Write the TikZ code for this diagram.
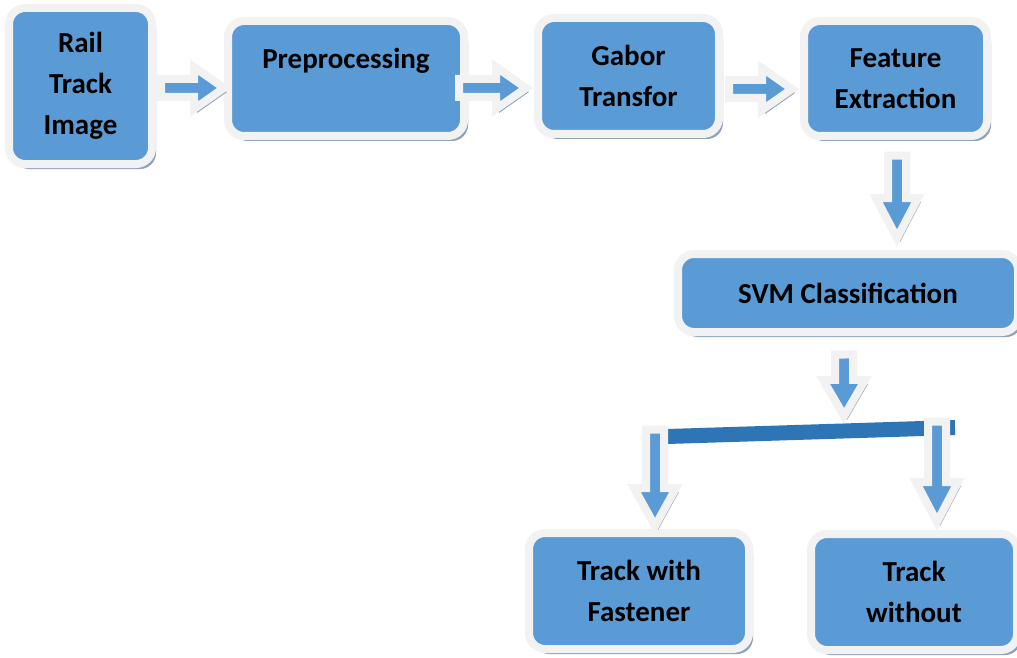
\documentclass[tikz,border=0pt]{standalone}
\usepackage{fontspec}
\setmainfont{Carlito}
\usepackage{tikz}
\usetikzlibrary{calc,shadows}

\definecolor{boxblue}{HTML}{5B9BD5}
\definecolor{rimgray}{HTML}{F2F2F2}
\definecolor{barblue}{HTML}{2E75B6}
\definecolor{shadowgray}{HTML}{8EA2BC}

\newcommand{\stagefont}{\fontsize{29}{41}\selectfont\bfseries}

\tikzset{
    stage/.style={rectangle, rounded corners=16pt, fill=boxblue, draw=rimgray,
        line width=8pt, inner sep=0pt, align=center, font=\stagefont,
        drop shadow={shadow xshift=4pt, shadow yshift=-5pt, fill=shadowgray, opacity=1}},
    fatlook/.style={fill=boxblue, draw=rimgray, line width=8pt,
        drop shadow={shadow xshift=3pt, shadow yshift=-4pt, fill=shadowgray, opacity=1}},
    blockarrow/.style={to path={
        (\tikztostart) coordinate (ta) (\tikztotarget) coordinate (tb)
        ($(ta)!9pt!90:(tb)$) -- ($($(tb)!#1!(ta)$)!9pt!-90:(ta)$)
        -- ($($(tb)!#1!(ta)$)!21pt!-90:(ta)$) -- (tb)
        -- ($($(tb)!#1!(ta)$)!21pt!90:(ta)$) -- ($($(tb)!#1!(ta)$)!9pt!90:(ta)$)
        -- ($(ta)!9pt!-90:(tb)$) -- cycle}},
    blockarrow/.default=30pt
}

\begin{document}
\begin{tikzpicture}[x=1pt, y=-1pt]
    \path[use as bounding box, fill=white] (0,0) rectangle (1017,658);

    \node[stage, minimum width=143pt, minimum height=156pt] (rail) at (80.5,86) {Rail\\Track\\Image};
    \node[stage, minimum width=236pt, minimum height=115pt] (prep) at (346,78.5) {Preprocessing\\\mbox{}};
    \node[stage, minimum width=181pt, minimum height=116pt] (gabor) at (628.5,76) {Gabor\\Transfor};
    \node[stage, minimum width=183pt, minimum height=115pt] (feat) at (895.5,78.5) {Feature\\Extraction};
    \node[stage, minimum width=340pt, minimum height=78pt] (svm) at (848,293) {SVM Classification};
    \node[stage, minimum width=220pt, minimum height=116pt] (fast) at (639,591) {Track with\\Fastener};
    \node[stage, minimum width=206pt, minimum height=116pt] (nofast) at (914,592) {Track\\without};

    \coordinate (bl) at (667,436.5);
    \coordinate (br) at (955,427.5);
    \draw[barblue, line width=15pt] (bl) -- (br);

    \draw[fatlook, blockarrow] ([xshift=5pt, yshift=-2pt]rail.east) to ([yshift=-9.5pt]prep.west);
    \draw[fatlook, blockarrow] ([xshift=-9pt, yshift=-9.5pt]prep.east) to ([xshift=-8pt, yshift=-12pt]gabor.west);
    \draw[fatlook, blockarrow] ([xshift=6pt, yshift=-13pt]gabor.east) to ([xshift=-8pt, yshift=-10.5pt]feat.west);
    \draw[fatlook, blockarrow=40pt] ([xshift=1.5pt, yshift=-15.5pt]feat.south) to ([xshift=49pt, yshift=12pt]svm.north);
    \draw[fatlook, blockarrow=36pt] ([xshift=-4pt, yshift=-18.5pt]svm.south) to ([yshift=15pt]$(bl)!0.615!(br)$);
    \draw[fatlook, blockarrow=38pt] ([xshift=-12pt, yshift=7pt]bl) to ([xshift=16pt, yshift=3pt]fast.north);
    \draw[fatlook, blockarrow=40pt] ([xshift=-18pt, yshift=6pt]br) to ([xshift=23pt, yshift=8pt]nofast.north);

\end{tikzpicture}
\end{document}
